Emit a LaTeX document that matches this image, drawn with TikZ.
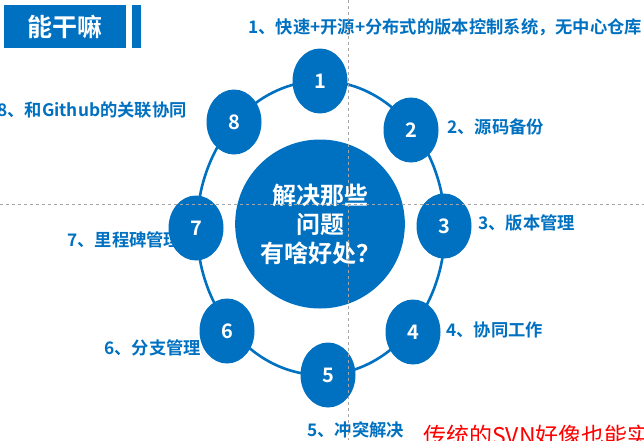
\documentclass[tikz,border=0pt]{standalone}
\usepackage{fontspec}
\setmainfont{Noto Sans CJK SC}[BoldFont={Noto Sans CJK SC Bold}]
\usetikzlibrary{shapes.geometric}
\definecolor{mblue}{HTML}{0070C0}
\definecolor{guide}{HTML}{A6A6A6}
\definecolor{mred}{HTML}{FF0000}
\tikzset{
  num/.style={ellipse, fill=mblue, minimum width=55pt, minimum height=65pt, inner sep=0pt,
    text=white, font=\bfseries\fontsize{20}{20}\selectfont},
  lbl/.style={anchor=west, inner sep=0pt, text=mblue, font=\bfseries\fontsize{17.3}{17.3}\selectfont},
  ring/.style={draw=mblue, line width=2.6pt},
  guideline/.style={draw=guide, line width=0.8pt, dash pattern=on 3pt off 3pt},
  titlebox/.style={fill=mblue, draw=none}
}
\begin{document}
\begin{tikzpicture}[x=1pt,y=-1pt]
\useasboundingbox (0,0) rectangle (644,440);
\clip (0,0) rectangle (644,440);
% title
\fill[titlebox] (4,5) rectangle (126,48);
\fill[titlebox] (132,5) rectangle (141,48);
\node[text=white, font=\bfseries\fontsize{25}{25}\selectfont, inner sep=0pt] (title) at (65,26.5) {能干嘛};
% labels
\node[lbl] (l1) at (248,27) {1、快速+开源+分布式的版本控制系统，无中心仓库};
\node[lbl] (l2) at (447,127) {2、源码备份};
\node[lbl] (l3) at (478,223) {3、版本管理};
\node[lbl] (l4) at (446,330) {4、协同工作};
\node[lbl] (l5) at (307,430) {5、冲突解决};
\node[lbl] (l6) at (104,348) {6、分支管理};
\node[lbl] (l7) at (67,240) {7、里程碑管理};
\node[lbl] (l8) at (-3,110) {8、和Github的关联协同};
% red text
\node[anchor=north west, inner sep=0pt, text=mred, font=\fontsize{23}{23}\selectfont] (red) at (423,425) {传统的SVN好像也能实现};
% ring
\coordinate (rc) at (321,228);
\draw[ring] (rc) ellipse [x radius=124, y radius=147];
% central ellipse
\node[ellipse, fill=mblue, minimum width=144pt, minimum height=169pt, inner sep=0pt,
  text=white, align=center, font=\bfseries\fontsize{24}{29}\selectfont] (center) at (320,224)
  {解决那些\\问题\\有啥好处？};
% numbered circles
\node[num] (c1) at (320,81) {1};
\node[num] (c2) at (411,130) {2};
\node[num] (c3) at (444,226) {3};
\node[num] (c4) at (413,332) {4};
\node[num] (c5) at (328,375) {5};
\node[num] (c6) at (227,331) {6};
\node[num] (c7) at (196,228) {7};
\node[num] (c8) at (234,122) {8};
% guides
\draw[guideline] (0,204) -- (644,204);
\draw[guideline] (348.5,0) -- (348.5,440);
\end{tikzpicture}
\end{document}
